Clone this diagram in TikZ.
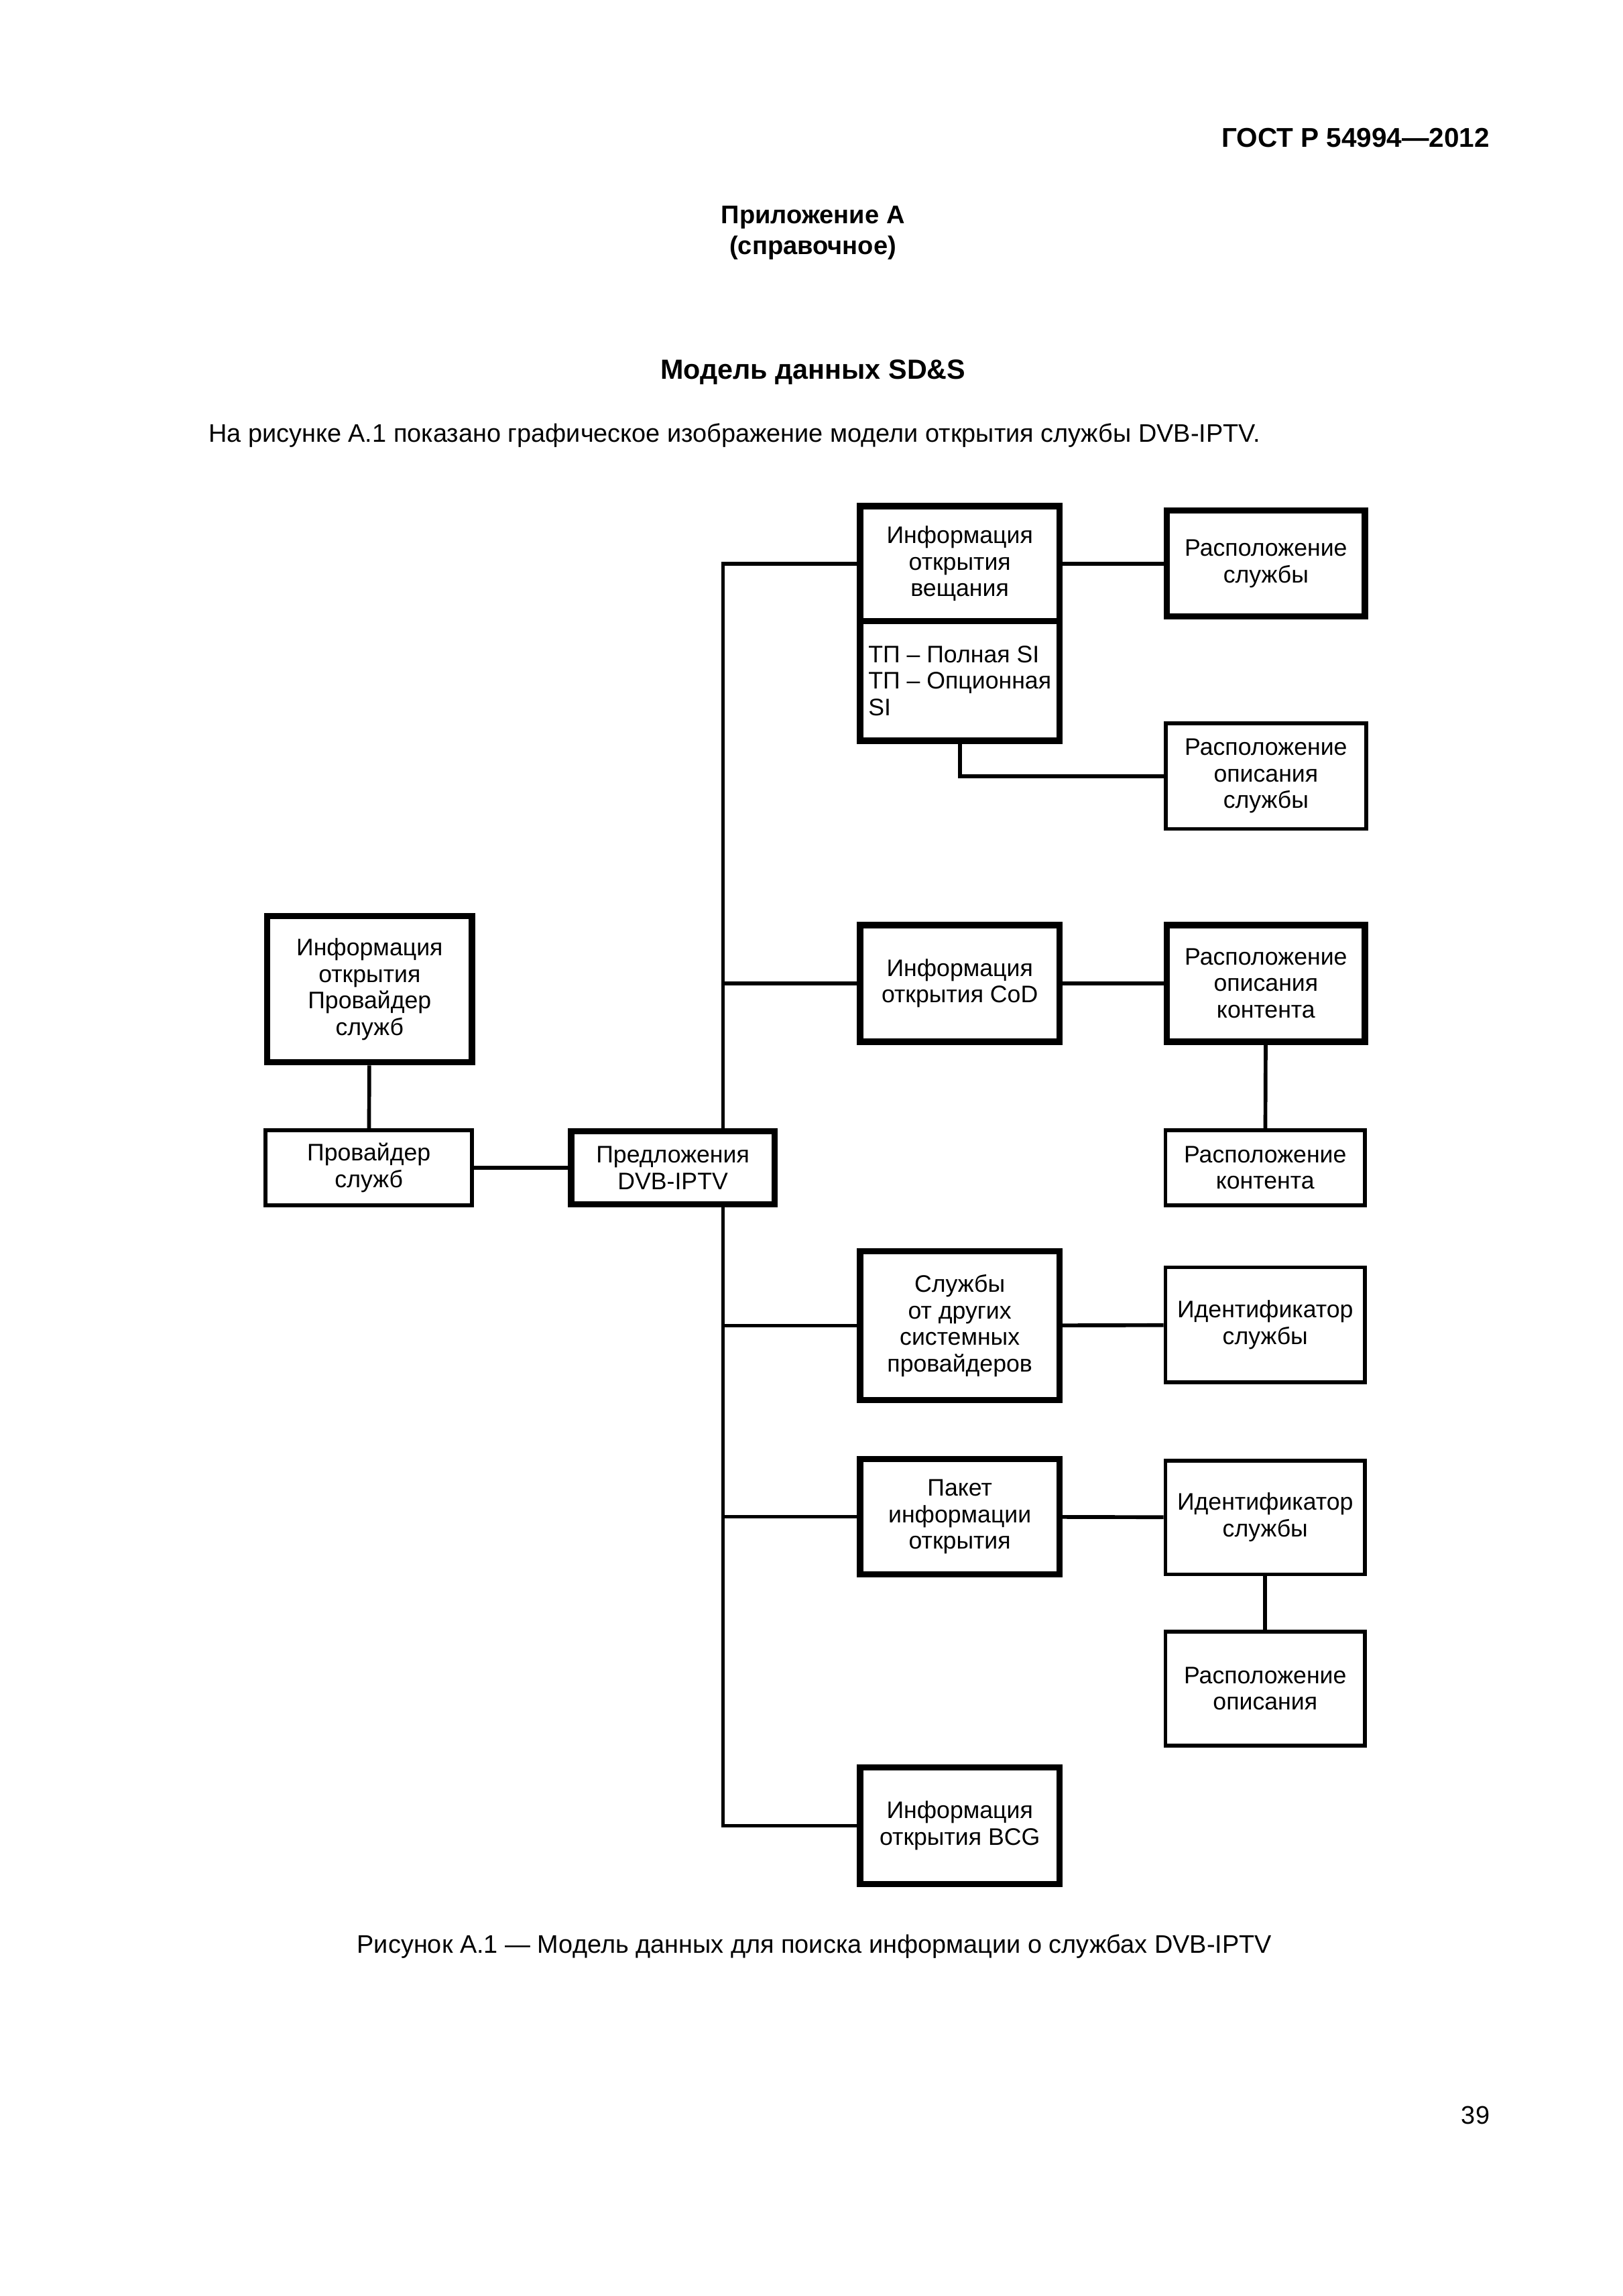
\documentclass[tikz,border=0pt]{standalone}
\usepackage{fontspec}
\setmainfont{Liberation Sans}
\usetikzlibrary{positioning}

\begin{document}
\begin{tikzpicture}[x=0.190909mm, y=-0.190909mm,
    box/.style={draw, line width=1.4pt, align=center, inner sep=0pt,
      font=\fontsize{8.8}{9.8}\selectfont},
    thickbox/.style={box, line width=2.3pt},
    link/.style={line width=1.4pt},
    pagetext/.style={font=\fontsize{9.35}{11}\selectfont, inner sep=0pt}]
  % page
  \fill[white] (0,0) rectangle (1100,1556.2);
  \useasboundingbox (0,0) rectangle (1100,1556.2);

  % page texts
  \node[pagetext, font=\bfseries\fontsize{10}{12}\selectfont, anchor=mid east] (gost) at (1010,95) {ГОСТ Р 54994—2012};
  \node[pagetext, font=\bfseries\fontsize{9.4}{11.4}\selectfont, align=center] (appx) at (551,158) {Приложение А\\(справочное)};
  \node[pagetext, font=\bfseries\fontsize{10.2}{12}\selectfont, anchor=mid] (title) at (551,252) {Модель данных SD\&S};
  \node[pagetext, anchor=mid west] (intro) at (141,295) {На рисунке А.1 показано графическое изображение модели открытия службы DVB-IPTV.};
  \node[pagetext, anchor=mid] (caption) at (552,1319) {Рисунок А.1 — Модель данных для поиска информации о службах DVB-IPTV};
  \node[pagetext, anchor=mid east] (pageno) at (1010,1435) {39};

  % left part
  \node[thickbox, minimum width=26.5mm, minimum height=18.9mm] (spinfo) at (250.5,670.5) {Информация\\открытия\\Провайдер\\служб};
  \node[box, minimum width=26.7mm, minimum height=9.7mm] (sp) at (250,791.5) {Провайдер\\служб};
  \node[thickbox, minimum width=26.3mm, minimum height=9.4mm] (offer) at (456,791.5) {Предложения\\DVB-IPTV};
  \coordinate (spine) at (490,0);

  % middle column
  \node[thickbox, minimum width=25.8mm, minimum height=14.9mm] (bcast) at (650.5,382) {Информация\\открытия\\вещания};
  \node[thickbox, minimum width=25.8mm, minimum height=15.5mm, align=left] (tp) at (650.5,461.5) {ТП – Полная SI\\ТП – Опционная\\SI};
  \node[thickbox, minimum width=25.8mm, minimum height=15.1mm] (cod) at (650.5,666.5) {Информация\\открытия CoD};
  \node[thickbox, minimum width=25.8mm, minimum height=19.3mm] (other) at (650.5,898.5) {Службы\\от других\\системных\\провайдеров};
  \node[thickbox, minimum width=25.8mm, minimum height=14.9mm] (pkg) at (650.5,1028) {Пакет\\информации\\открытия};
  \node[thickbox, minimum width=25.8mm, minimum height=15.1mm] (bcg) at (650.5,1237.5) {Информация\\открытия BCG};

  % right column
  \node[thickbox, minimum width=25.6mm, minimum height=13.7mm] (svcloc) at (858,382) {Расположение\\службы};
  \node[box, minimum width=25.9mm, minimum height=13.7mm] (sdloc) at (858,526) {Расположение\\описания\\службы};
  \node[thickbox, minimum width=25.6mm, minimum height=15.1mm] (cdloc) at (858,666.5) {Расположение\\описания\\контента};
  \node[box, minimum width=25.8mm, minimum height=9.7mm] (cloc) at (857.5,791.5) {Расположение\\контента};
  \node[box, minimum width=25.8mm, minimum height=14.9mm] (sid1) at (857.5,898) {Идентификатор\\службы};
  \node[box, minimum width=25.8mm, minimum height=14.7mm] (sid2) at (857.5,1028.5) {Идентификатор\\службы};
  \node[box, minimum width=25.8mm, minimum height=14.7mm] (dloc) at (857.5,1144.5) {Расположение\\описания};

  % connectors
  \draw[link] (spinfo) -- (sp);
  \draw[link] (sp) -- (offer);
  \draw[link] (offer.north -| spine) |- (bcast.west);
  \draw[link] (offer.south -| spine) |- (bcg.west);
  \foreach \n in {cod,other,pkg}
    \draw[link] (\n.west -| spine) -- (\n.west);
  \draw[link] (bcast) -- (svcloc);
  \draw[link] (tp.south) |- (sdloc.west);
  \draw[link] (cod) -- (cdloc);
  \draw[link] (cdloc) -- (cloc);
  \draw[link] (other) -- (sid1);
  \draw[link] (pkg) -- (sid2);
  \draw[link] (sid2) -- (dloc);
\end{tikzpicture}
\end{document}
